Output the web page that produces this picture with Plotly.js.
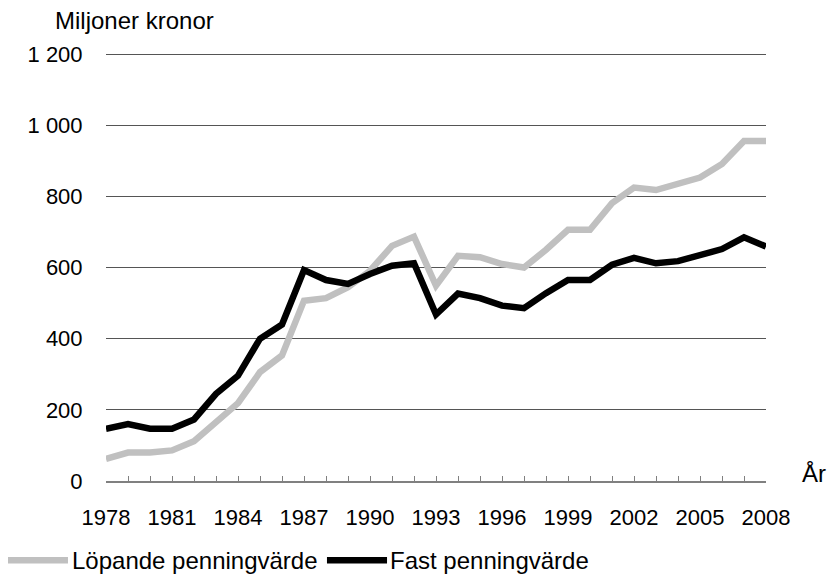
<!DOCTYPE html>
<html>
<head>
<meta charset="utf-8">
<script src="https://cdn.plot.ly/plotly-3.0.1.min.js"></script>
<style>html,body{margin:0;padding:0;background:#fff;}#chart{width:827px;height:574px;}</style>
</head>
<body>
<div id="chart"></div>
<script>
const years = [1978,1979,1980,1981,1982,1983,1984,1985,1986,1987,1988,1989,1990,1991,1992,1993,1994,1995,1996,1997,1998,1999,2000,2001,2002,2003,2004,2005,2006,2007,2008];
const lopande = [62,80,80,86,112,168,219,306,353,507,514,545,591,661,687,549,633,629,610,600,650,706,706,781,825,818,835,853,891,956,956];
const fast = [147,160,147,147,173,245,296,400,440,593,565,554,582,605,612,468,527,514,493,486,528,565,565,608,627,612,618,633,652,685,659];
const xTickVals = [1978,1981,1984,1987,1990,1993,1996,1999,2002,2005,2008];
const yTickVals = [0,200,400,600,800,1000,1200];
const yTickText = ["0","200","400","600","800","1 000","1 200"];
const seriesNames = ["Löpande penningvärde", "Fast penningvärde"];
const seriesColors = ["#c0c0c0", "#000000"];

const tickFont = {family: "Liberation Sans, Arial, sans-serif", size: 22, color: "#000"};
const textFont = {family: "Liberation Sans, Arial, sans-serif", size: 24, color: "#000"};

const traces = [
  {x: years, y: lopande, type: "scatter", mode: "lines", name: seriesNames[0],
   line: {color: seriesColors[0], width: 6.5}},
  {x: years, y: fast, type: "scatter", mode: "lines", name: seriesNames[1],
   line: {color: seriesColors[1], width: 6.5}}
];

// custom legend (long line samples like the original)
const legY = -0.185;
const legend = [
  {x0: -0.1485, x1: -0.0576, tx: -0.0545},
  {x0: 0.3348, x1: 0.4258, tx: 0.4273}
];
const shapes = legend.map((l, i) => ({
  type: "line", xref: "paper", yref: "paper", x0: l.x0, x1: l.x1, y0: legY, y1: legY,
  line: {color: seriesColors[i], width: 6.5}
}));
const legendAnn = legend.map((l, i) => ({
  text: seriesNames[i], xref: "paper", yref: "paper", x: l.tx, y: legY,
  xanchor: "left", yanchor: "middle", showarrow: false, font: textFont
}));

const layout = {
  width: 827, height: 574,
  margin: {l: 106, r: 61, t: 52, b: 93},
  paper_bgcolor: "#fff", plot_bgcolor: "#fff",
  font: textFont,
  showlegend: false,
  xaxis: {range: [1978, 2008], tickmode: "array", tickvals: xTickVals,
          ticks: "inside", ticklen: 5, tickcolor: "#808080",
          minor: {dtick: 1, tick0: 1978, ticks: "inside", ticklen: 5, tickcolor: "#808080", showgrid: false},
          showline: true, linecolor: "#808080", linewidth: 1.5,
          showgrid: false, zeroline: false, ticklabelstandoff: 16, tickfont: tickFont},
  yaxis: {range: [0, 1206], tickmode: "array", tickvals: yTickVals, ticktext: yTickText,
          showgrid: true, gridcolor: "#555", gridwidth: 1, zeroline: false,
          showline: false, ticks: "outside", ticklen: 18, tickcolor: "rgba(0,0,0,0)",
          tickfont: tickFont},
  shapes: shapes,
  annotations: [
    {text: "Miljoner kronor", xref: "paper", yref: "paper", x: -0.0803, y: 1.0726,
     xanchor: "left", yanchor: "middle", showarrow: false, font: textFont},
    {text: "År", xref: "paper", yref: "paper", x: 1.0515, y: 0.0164,
     xanchor: "left", yanchor: "middle", showarrow: false, font: textFont}
  ].concat(legendAnn)
};

Plotly.newPlot("chart", traces, layout, {staticPlot: true, displayModeBar: false});
</script>
</body>
</html>
